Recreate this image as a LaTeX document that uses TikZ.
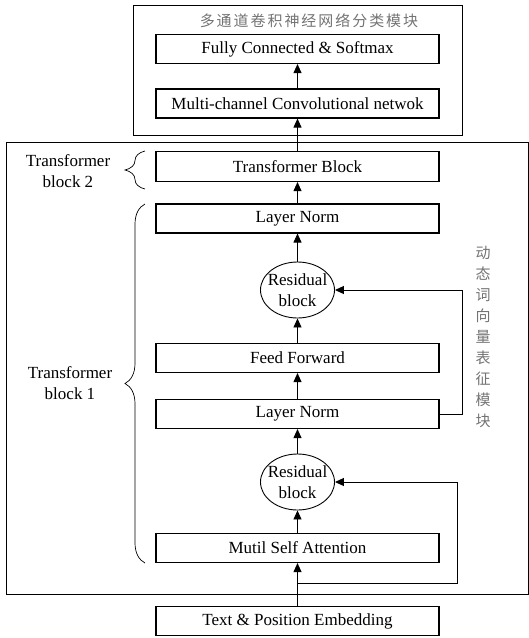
\documentclass[tikz,border=0pt]{standalone}
\usepackage{fontspec}
\setmainfont{Liberation Serif}
\newfontfamily\cjkwide[LetterSpace=13]{Noto Sans CJK SC}
\newfontfamily\cjk{Noto Sans CJK SC}
\usetikzlibrary{arrows.meta,decorations.pathreplacing,shapes.geometric}

\begin{document}
\begin{tikzpicture}[x=1pt,y=-1pt,line width=0.9pt,
        every node/.style={font=\fontsize{17}{21}\selectfont},
        layer/.style={draw,line width=1.1pt,minimum width=283pt,minimum height=29pt,inner sep=0pt},
        resid/.style={draw,ellipse,minimum width=74pt,minimum height=56pt,inner sep=0pt},
        arr/.style={-{Triangle[length=9pt,width=8pt]}},
        grouping/.style={decorate,line width=0.7pt,decoration={brace,amplitude=20pt}},
        cjklabel/.style={text=black!55,font=\cjk\fontsize{15}{21}\selectfont}]
        \useasboundingbox (0,0) rectangle (529,638);
        % Frames
        \draw (133,5) rectangle (462,135);
        \draw (6,142) rectangle (528,594);
        \node[cjklabel,font=\cjkwide\fontsize{15}{21}\selectfont] (cnntitle) at (309,21) {多通道卷积神经网络分类模块};
        \node[cjklabel,align=center] (embtitle) at (483,337) {动\\态\\词\\向\\量\\表\\征\\模\\块};
        % Layers
        \node[layer] (fc) at (297.5,49) {Fully Connected \& Softmax};
        \node[layer] (mcn) at (297.5,103.5) {Multi-channel Convolutional netwok};
        \node[layer,minimum height=30pt] (tb) at (297.5,166.5) {Transformer Block};
        \node[layer] (ln2) at (297.5,218.5) {Layer Norm};
        \node[resid] (res2) at (297.5,290) {};
        \node[align=center] (res2txt) at (res2) {Residual\\block};
        \node[layer] (ff) at (297.5,358) {Feed Forward};
        \node[layer] (ln1) at (297.5,414) {Layer Norm};
        \node[resid] (res1) at (297.5,482) {};
        \node[align=center] (res1txt) at (res1) {Residual\\block};
        \node[layer] (msa) at (297.5,548) {Mutil Self Attention};
        \node[layer] (emb) at (297.5,621) {Text \& Position Embedding};
        % Connections
        \coordinate (split) at (297.5,583);
        \draw[arr] (emb) -- (msa);
        \draw[arr] (split) -- ++(159.5,0) |- (res1.east);
        \draw[arr] (msa) -- (res1);
        \draw[arr] (res1) -- (ln1);
        \draw[arr] (ln1) -- (ff);
        \draw[arr] (ff) -- (res2);
        \draw[arr] (ln1.east) -- ++(23,0) |- (res2.east);
        \draw[arr] (res2) -- (ln2);
        \draw[arr] (ln2) -- (tb);
        \draw[arr] (tb) -- (mcn);
        \draw[arr] (mcn) -- (fc);
        % Braces
        \draw[grouping] (145,189) -- (145,151);
        \draw[grouping] (145,563) -- (145,204);
        \node[align=center] (tb2lbl) at (68,171.5) {Transformer\\block 2};
        \node[align=center] (tb1lbl) at (70,383.5) {Transformer\\block 1};
    \end{tikzpicture}
\end{document}
